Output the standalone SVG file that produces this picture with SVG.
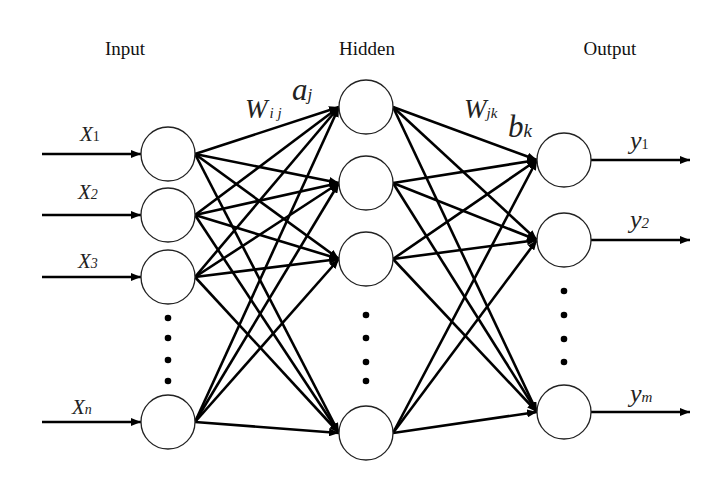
<svg xmlns="http://www.w3.org/2000/svg" width="724" height="478" viewBox="0 0 724 478">
<style>
.node{fill:#fff;stroke:#222;stroke-width:1.3}
.edge{stroke:#000;stroke-width:2.6;fill:none}
.io{stroke:#000;stroke-width:2.4;fill:none}
.dot{fill:#000}
.title{font-family:"Liberation Serif",serif;font-size:19px;fill:#111}
.var{font-family:"Liberation Serif",serif;font-style:italic;fill:#222}
</style>
<defs>
<marker id="ah" markerUnits="userSpaceOnUse" markerWidth="10" markerHeight="8" refX="10" refY="4" orient="auto">
<path d="M0,0 L10,4 L0,8 Z" fill="#000"/>
</marker>
</defs>
<rect width="724" height="478" fill="#fff"/>
<text class="title" x="125" y="55" text-anchor="middle">Input</text>
<text class="title" x="367" y="55" text-anchor="middle">Hidden</text>
<text class="title" x="610" y="55" text-anchor="middle">Output</text>
<g id="connectors">
<line class="io" x1="42" y1="154" x2="141" y2="154" marker-end="url(#ah)"/>
<line class="io" x1="42" y1="215" x2="141" y2="215" marker-end="url(#ah)"/>
<line class="io" x1="42" y1="277" x2="141" y2="277" marker-end="url(#ah)"/>
<line class="io" x1="42" y1="422" x2="141" y2="422" marker-end="url(#ah)"/>
<line class="edge" x1="195" y1="154" x2="339" y2="107" marker-end="url(#ah)"/>
<line class="edge" x1="195" y1="154" x2="339" y2="183" marker-end="url(#ah)"/>
<line class="edge" x1="195" y1="154" x2="339" y2="259" marker-end="url(#ah)"/>
<line class="edge" x1="195" y1="154" x2="339" y2="433" marker-end="url(#ah)"/>
<line class="edge" x1="195" y1="215" x2="339" y2="107" marker-end="url(#ah)"/>
<line class="edge" x1="195" y1="215" x2="339" y2="183" marker-end="url(#ah)"/>
<line class="edge" x1="195" y1="215" x2="339" y2="259" marker-end="url(#ah)"/>
<line class="edge" x1="195" y1="215" x2="339" y2="433" marker-end="url(#ah)"/>
<line class="edge" x1="195" y1="277" x2="339" y2="107" marker-end="url(#ah)"/>
<line class="edge" x1="195" y1="277" x2="339" y2="183" marker-end="url(#ah)"/>
<line class="edge" x1="195" y1="277" x2="339" y2="259" marker-end="url(#ah)"/>
<line class="edge" x1="195" y1="277" x2="339" y2="433" marker-end="url(#ah)"/>
<line class="edge" x1="195" y1="422" x2="339" y2="107" marker-end="url(#ah)"/>
<line class="edge" x1="195" y1="422" x2="339" y2="183" marker-end="url(#ah)"/>
<line class="edge" x1="195" y1="422" x2="339" y2="259" marker-end="url(#ah)"/>
<line class="edge" x1="195" y1="422" x2="339" y2="433" marker-end="url(#ah)"/>
<line class="edge" x1="393" y1="107" x2="537" y2="160" marker-end="url(#ah)"/>
<line class="edge" x1="393" y1="107" x2="537" y2="240" marker-end="url(#ah)"/>
<line class="edge" x1="393" y1="107" x2="537" y2="412" marker-end="url(#ah)"/>
<line class="edge" x1="393" y1="183" x2="537" y2="160" marker-end="url(#ah)"/>
<line class="edge" x1="393" y1="183" x2="537" y2="240" marker-end="url(#ah)"/>
<line class="edge" x1="393" y1="183" x2="537" y2="412" marker-end="url(#ah)"/>
<line class="edge" x1="393" y1="259" x2="537" y2="160" marker-end="url(#ah)"/>
<line class="edge" x1="393" y1="259" x2="537" y2="240" marker-end="url(#ah)"/>
<line class="edge" x1="393" y1="259" x2="537" y2="412" marker-end="url(#ah)"/>
<line class="edge" x1="393" y1="433" x2="537" y2="160" marker-end="url(#ah)"/>
<line class="edge" x1="393" y1="433" x2="537" y2="240" marker-end="url(#ah)"/>
<line class="edge" x1="393" y1="433" x2="537" y2="412" marker-end="url(#ah)"/>
<line class="io" x1="591" y1="160" x2="690" y2="160" marker-end="url(#ah)"/>
<line class="io" x1="591" y1="240" x2="690" y2="240" marker-end="url(#ah)"/>
<line class="io" x1="591" y1="412" x2="690" y2="412" marker-end="url(#ah)"/>
</g>
<g id="input1"><circle class="node" cx="168" cy="154" r="27"/></g>
<g id="input2"><circle class="node" cx="168" cy="215" r="27"/></g>
<g id="input3"><circle class="node" cx="168" cy="277" r="27"/></g>
<g id="inputn"><circle class="node" cx="168" cy="422" r="27"/></g>
<g id="hidden1"><circle class="node" cx="366" cy="107" r="27"/></g>
<g id="hidden2"><circle class="node" cx="366" cy="183" r="27"/></g>
<g id="hidden3"><circle class="node" cx="366" cy="259" r="27"/></g>
<g id="hiddenn"><circle class="node" cx="366" cy="433" r="27"/></g>
<g id="output1"><circle class="node" cx="564" cy="160" r="27"/></g>
<g id="output2"><circle class="node" cx="564" cy="240" r="27"/></g>
<g id="outputm"><circle class="node" cx="564" cy="412" r="27"/></g>
<g id="dots">
<circle class="dot" cx="168" cy="318" r="3.3"/>
<circle class="dot" cx="168" cy="338" r="3.3"/>
<circle class="dot" cx="168" cy="360" r="3.3"/>
<circle class="dot" cx="168" cy="381" r="3.3"/>
<circle class="dot" cx="366" cy="315" r="3.3"/>
<circle class="dot" cx="366" cy="338" r="3.3"/>
<circle class="dot" cx="366" cy="362" r="3.3"/>
<circle class="dot" cx="366" cy="381" r="3.3"/>
<circle class="dot" cx="564" cy="291" r="3.3"/>
<circle class="dot" cx="564" cy="315" r="3.3"/>
<circle class="dot" cx="564" cy="339" r="3.3"/>
<circle class="dot" cx="564" cy="362" r="3.3"/>
</g>
<g id="labels">
<text class="var" x="80" y="141" font-size="21">X<tspan font-size="14" font-style="normal">1</tspan></text>
<text class="var" x="78" y="199" font-size="21">X<tspan font-size="14">2</tspan></text>
<text class="var" x="78" y="268" font-size="21">X<tspan font-size="14">3</tspan></text>
<text class="var" x="72" y="414" font-size="21">X<tspan font-size="14">n</tspan></text>
<text class="var" x="245" y="118" font-size="27">W<tspan font-size="15" dx="2">i j</tspan></text>
<text class="var" x="292" y="100" font-size="31">a<tspan font-size="17">j</tspan></text>
<text class="var" x="464" y="118" font-size="27">W<tspan font-size="15">jk</tspan></text>
<text class="var" x="508" y="137" font-size="31">b<tspan font-size="19">k</tspan></text>
<text class="var" x="630" y="149" font-size="26">y<tspan font-size="14" font-style="normal">1</tspan></text>
<text class="var" x="630" y="228" font-size="26">y<tspan font-size="15">2</tspan></text>
<text class="var" x="630" y="402" font-size="26">y<tspan font-size="15">m</tspan></text>
</g>
</svg>
